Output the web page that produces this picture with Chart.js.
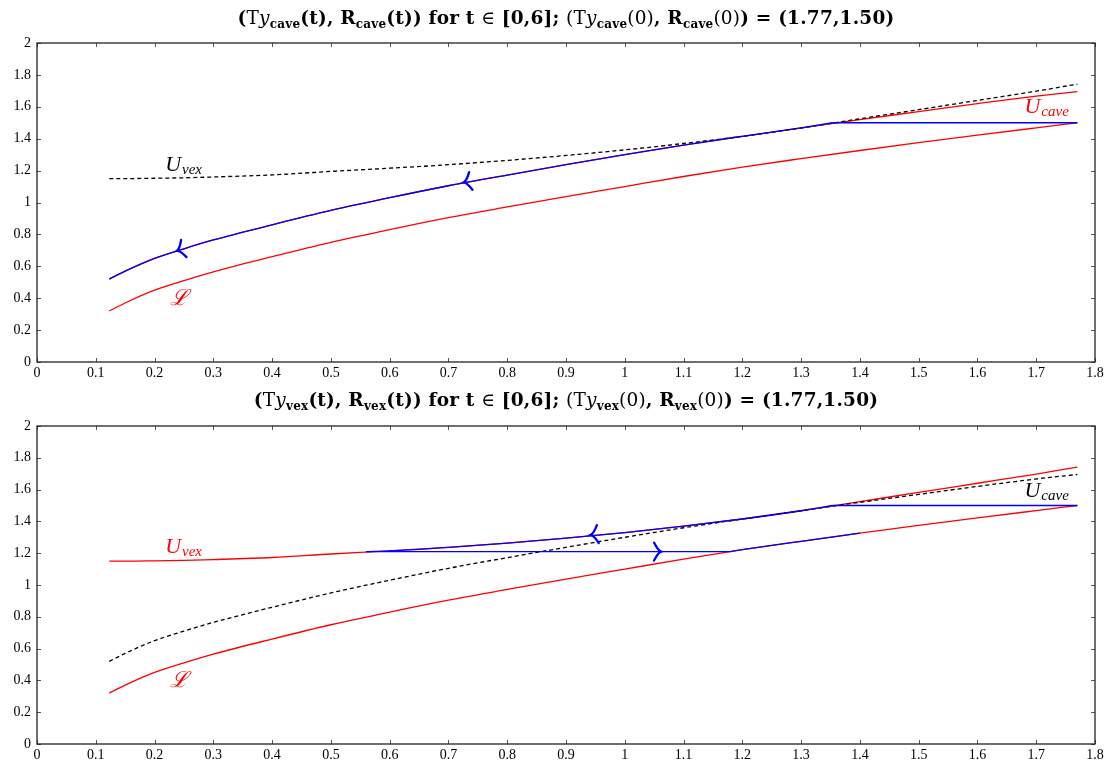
<!DOCTYPE html>
<html>
<head>
<meta charset="utf-8">
<script src="https://cdn.jsdelivr.net/npm/chart.js@4.4.1/dist/chart.umd.min.js"></script>
<style>
  body { margin: 0; background: #fff; }
  .wrap { position: relative; width: 1108px; height: 763px; }
  .box { position: absolute; left: 0; width: 1108px; }
  .title {
    position: absolute; left: 37px; width: 1058px; text-align: center;
    font-family: "DejaVu Serif", "Liberation Serif", serif; font-size: 18.5px;
    font-weight: bold; color: #000; white-space: nowrap; letter-spacing: 0.2px;
  }
  .title sub { font-size: 12px; vertical-align: -4px; }
  .n { font-weight: normal; }
  .i { font-style: italic; font-weight: normal; }
</style>
</head>
<body>
<div class="wrap">
  <div class="box" style="top:0;height:385px"><canvas id="top" width="1108" height="385"></canvas></div>
  <div class="box" style="top:385px;height:378px"><canvas id="bottom" width="1108" height="378"></canvas></div>
  <div class="title" style="top:7px">(<span class="n">T</span><span class="i">y</span><sub>cave</sub>(t), R<sub>cave</sub>(t)) for t <span class="n">∈</span> [0,6]; <span class="n">(T</span><span class="i">y</span><sub>cave</sub><span class="n">(0)</span>, R<sub>cave</sub><span class="n">(0)</span>) = (1.77,1.50)</div>
  <div class="title" style="top:389px">(<span class="n">T</span><span class="i">y</span><sub>vex</sub>(t), R<sub>vex</sub>(t)) for t <span class="n">∈</span> [0,6]; <span class="n">(T</span><span class="i">y</span><sub>vex</sub><span class="n">(0)</span>, R<sub>vex</sub><span class="n">(0)</span>) = (1.77,1.50)</div>
</div>
<script>
// curve samples
const xs = [0.123, 0.15, 0.2, 0.25, 0.3, 0.4, 0.5, 0.6, 0.7, 0.8, 0.9, 1.0, 1.1, 1.2, 1.3, 1.4, 1.5, 1.6, 1.7, 1.77];
const lowerL = [0.32, 0.37, 0.45, 0.51, 0.565, 0.66, 0.75, 0.83, 0.905, 0.972, 1.037, 1.1, 1.163, 1.222, 1.275, 1.326, 1.375, 1.422, 1.468, 1.50];
const upperCave = [0.52, 0.57, 0.65, 0.71, 0.765, 0.86, 0.95, 1.03, 1.105, 1.172, 1.237, 1.3, 1.36, 1.415, 1.468, 1.52, 1.57, 1.62, 1.667, 1.695];
const upperVex = [1.15, 1.15, 1.152, 1.155, 1.16, 1.173, 1.195, 1.215, 1.237, 1.264, 1.295, 1.33, 1.37, 1.415, 1.467, 1.525, 1.582, 1.64, 1.698, 1.742];

// trajectory corners (start point, hit point, jump)
const startPt = [1.77, 1.50];
const hitX = 1.354;
const jumpFromX = 0.56, jumpToX = 1.18, jumpY = 1.21;
const vexEndX = 1.4;

const xTicks = [0, 0.1, 0.2, 0.3, 0.4, 0.5, 0.6, 0.7, 0.8, 0.9, 1, 1.1, 1.2, 1.3, 1.4, 1.5, 1.6, 1.7, 1.8];
const xTickLabels = ['0', '0.1', '0.2', '0.3', '0.4', '0.5', '0.6', '0.7', '0.8', '0.9', '1', '1.1', '1.2', '1.3', '1.4', '1.5', '1.6', '1.7', '1.8'];
const yTicks = [0, 0.2, 0.4, 0.6, 0.8, 1, 1.2, 1.4, 1.6, 1.8, 2];
const yTickLabels = ['0', '0.2', '0.4', '0.6', '0.8', '1', '1.2', '1.4', '1.6', '1.8', '2'];

const RED = '#ff0000', BLUE = '#0000ff';
const SERIF = '"Liberation Serif", "DejaVu Serif", serif';

const pts = (ys) => xs.map((x, i) => ({ x, y: ys[i] }));
const part = (ys, lo, hi) => pts(ys).filter(p => p.x > lo && p.x < hi);

// blue trajectory pieces
const topHoriz = [{ x: hitX, y: startPt[1] }, { x: startPt[0], y: startPt[1] }];
const caveRun = part(upperCave, 0, hitX).concat([{ x: hitX, y: startPt[1] }]);
const vexRun = [{ x: jumpFromX, y: jumpY }].concat(part(upperVex, jumpFromX, hitX), [{ x: hitX, y: startPt[1] }]);
const jumpRun = [{ x: jumpFromX, y: jumpY }, { x: jumpToX, y: jumpY }];
const lowRun = [{ x: jumpToX, y: jumpY }].concat(part(lowerL, jumpToX, vexEndX + 0.001));

const framePlugin = {
  id: 'frame',
  afterDatasetsDraw(chart, args, opts) {
    const { ctx, chartArea: a, scales: { x, y } } = chart;
    ctx.save();
    ctx.strokeStyle = '#555';
    ctx.lineWidth = 1;
    ctx.beginPath();
    xTicks.forEach(v => {
      const px = Math.round(x.getPixelForValue(v)) + 0.5;
      ctx.moveTo(px, a.bottom); ctx.lineTo(px, a.bottom - 4);
      ctx.moveTo(px, a.top); ctx.lineTo(px, a.top + 4);
    });
    yTicks.forEach(v => {
      const py = Math.round(y.getPixelForValue(v)) + 0.5;
      ctx.moveTo(a.left, py); ctx.lineTo(a.left + 4, py);
      ctx.moveTo(a.right, py); ctx.lineTo(a.right - 4, py);
    });
    ctx.stroke();
    ctx.strokeStyle = '#222';
    ctx.lineWidth = 1.3;
    ctx.strokeRect(a.left, a.top, a.right - a.left, a.bottom - a.top);

    // arrow heads
    ctx.strokeStyle = BLUE;
    ctx.lineWidth = 2.3;
    ctx.lineCap = 'round';
    (opts.arrows || []).forEach(ar => {
      const x0 = x.getPixelForValue(ar.x), y0 = y.getPixelForValue(ar.y);
      const x1 = x.getPixelForValue(ar.x + ar.dx), y1 = y.getPixelForValue(ar.y + ar.dy);
      const ang = Math.atan2(y1 - y0, x1 - x0);
      ctx.save();
      ctx.translate(x0, y0);
      ctx.rotate(ang);
      ctx.beginPath();
      ctx.moveTo(-6, -9);
      ctx.quadraticCurveTo(-2, -1, 1, 0);
      ctx.quadraticCurveTo(-2, 1, -6, 9);
      ctx.stroke();
      ctx.restore();
    });

    // curve names
    (opts.labels || []).forEach(lb => {
      const px = x.getPixelForValue(lb.x), py = y.getPixelForValue(lb.y);
      ctx.fillStyle = lb.color;
      ctx.textBaseline = 'alphabetic';
      ctx.textAlign = 'left';
      ctx.font = 'italic 22px ' + SERIF;
      ctx.fillText(lb.text, px, py);
      if (lb.sub) {
        const w = ctx.measureText(lb.text).width;
        ctx.font = 'italic 15px ' + SERIF;
        ctx.fillText(lb.sub, px + w + 1, py + 3);
      }
    });
    ctx.restore();
  }
};

function makeChart(id, datasets, padTop, axisH, arrows, labels) {
  return new Chart(document.getElementById(id), {
    type: 'scatter',
    data: { datasets },
    options: {
      responsive: false,
      animation: false,
      devicePixelRatio: 1,
      layout: { padding: { top: padTop, right: 13, left: 0, bottom: 0 } },
      plugins: {
        legend: { display: false },
        tooltip: { enabled: false },
        frame: { arrows, labels }
      },
      scales: {
        x: {
          type: 'linear', min: 0, max: 1.8,
          afterBuildTicks: s => { s.ticks = xTicks.map(v => ({ value: v })); },
          afterFit: s => { s.height = axisH; },
          grid: { display: false, drawTicks: false },
          border: { display: false },
          ticks: {
            padding: 3, color: '#000', maxRotation: 0, autoSkip: false,
            font: { family: SERIF, size: 14 },
            callback: (v, i) => xTickLabels[i]
          }
        },
        y: {
          type: 'linear', min: 0, max: 2,
          afterBuildTicks: s => { s.ticks = yTicks.map(v => ({ value: v })); },
          afterFit: s => { s.width = 37; },
          grid: { display: false, drawTicks: false },
          border: { display: false },
          ticks: {
            padding: 6, color: '#000', autoSkip: false,
            font: { family: SERIF, size: 14 },
            callback: (v, i) => yTickLabels[i]
          }
        }
      }
    },
    plugins: [framePlugin]
  });
}

const line = (data, color, dash) => ({
  data, showLine: true, borderColor: color, borderWidth: 1.3, pointRadius: 0,
  borderDash: dash || [], cubicInterpolationMode: 'monotone', fill: false
});

makeChart('top', [
  line(topHoriz, BLUE),
  line(caveRun, BLUE),
  line(pts(upperVex), '#000', [4, 3]),
  line(pts(upperCave), RED),
  line(pts(lowerL), RED)
], 43, 23, [
  { x: 0.24, y: 0.70, dx: -0.05, dy: -0.058 },
  { x: 0.728, y: 1.128, dx: -0.05, dy: -0.035 }
], [
  { text: 'U', sub: 'vex', x: 0.218, y: 1.20, color: '#000' },
  { text: 'ℒ', x: 0.226, y: 0.357, color: RED },
  { text: 'U', sub: 'cave', x: 1.68, y: 1.56, color: RED }
]);

makeChart('bottom', [
  line(topHoriz, BLUE),
  line(vexRun, BLUE),
  line(jumpRun, BLUE),
  line(lowRun, BLUE),
  line(pts(upperCave), '#000', [4, 3]),
  line(pts(upperVex), RED),
  line(pts(lowerL), RED)
], 41, 19, [
  { x: 0.944, y: 1.316, dx: -0.05, dy: -0.019 },
  { x: 1.06, y: 1.21, dx: 0.05, dy: 0 }
], [
  { text: 'U', sub: 'vex', x: 0.218, y: 1.20, color: RED },
  { text: 'ℒ', x: 0.226, y: 0.358, color: RED },
  { text: 'U', sub: 'cave', x: 1.68, y: 1.553, color: '#000' }
]);
</script>
</body>
</html>
